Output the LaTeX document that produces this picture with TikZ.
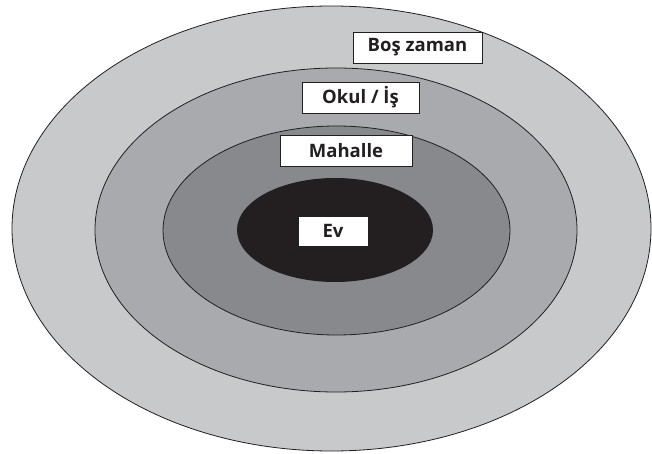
\documentclass[tikz,border=0pt]{standalone}
\usepackage{fontspec}
\setmainfont{Open Sans}
\definecolor{ringA}{HTML}{C8C9CB}
\definecolor{ringB}{HTML}{A9AAAD}
\definecolor{ringC}{HTML}{88898C}
\definecolor{core}{HTML}{231F20}
\begin{document}
\begin{tikzpicture}[x=1pt,y=-1pt,
  ring/.style={draw=core,line width=0.8pt},
  tag/.style={draw=core,fill=white,line width=0.7pt,inner sep=0pt,
    minimum height=31pt,text=core,font=\fontsize{18.5}{22}\selectfont\bfseries}]
\useasboundingbox (0,0) rectangle (652,454);
% nested spheres of daily life
\path[ring,fill=ringA] (331.5,228.5) ellipse [x radius=319.5,y radius=222.5];
\path[ring,fill=ringB] (336,230) ellipse [x radius=241,y radius=162];
\path[ring,fill=ringC] (336.5,230.5) ellipse [x radius=173.5,y radius=104.5];
\path[fill=core] (335,230) ellipse [x radius=98,y radius=52];
% labels
\node[tag,minimum width=129pt] (boszaman) at (417.5,47.5) {Boş zaman};
\node[tag,minimum width=117pt] (okul) at (360.5,97.5) {Okul / İş};
\node[tag,minimum width=132pt] (mahalle) at (346,150.5) {Mahalle};
\node[tag,minimum width=70pt,minimum height=30pt] (ev) at (333,231) {Ev};
\end{tikzpicture}
\end{document}
